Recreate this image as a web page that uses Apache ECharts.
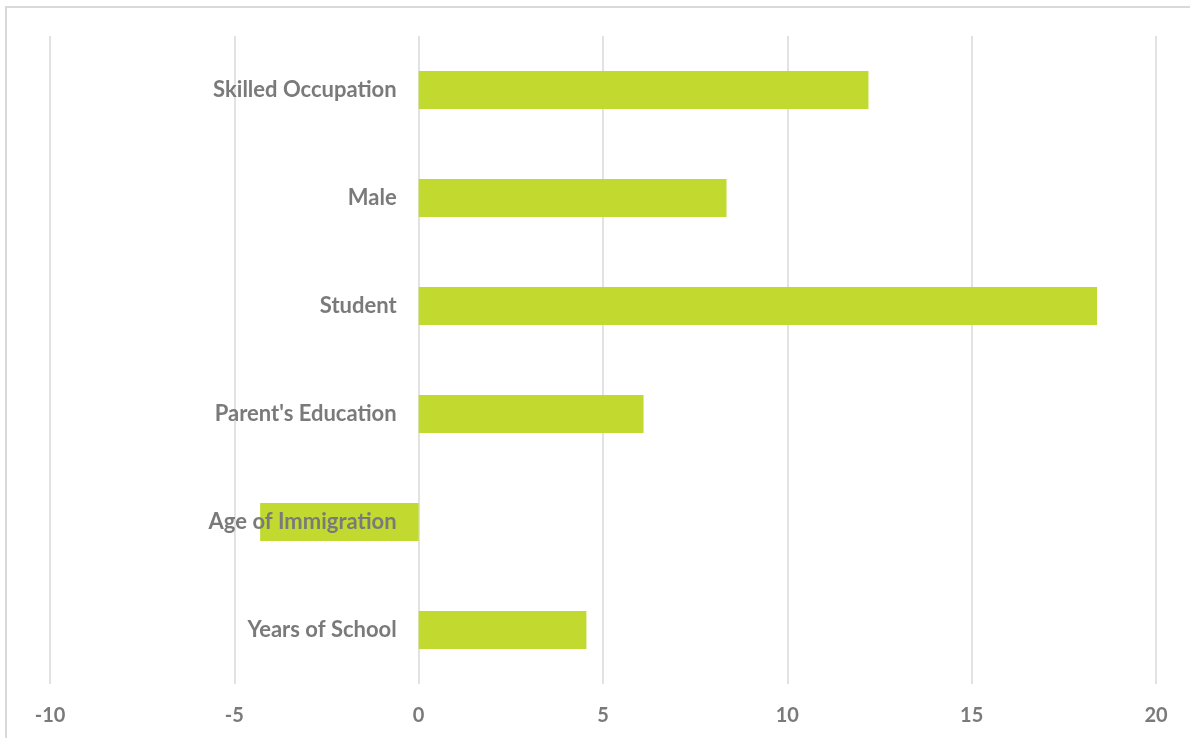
<!DOCTYPE html>
<html>
<head>
<meta charset="utf-8">
<script src="https://cdn.jsdelivr.net/npm/echarts@6/dist/echarts.min.js"></script>
<style>
  html, body { margin: 0; padding: 0; background: #ffffff; }
  #chart { width: 1190px; height: 738px; }
</style>
</head>
<body>
<div id="chart"></div>
<script>
// Predictors, listed top to bottom
const categories = [
  'Skilled Occupation',
  'Male',
  'Student',
  "Parent's Education",
  'Age of Immigration',
  'Years of School'
];
// Effect size for each predictor
const values = [12.2, 8.35, 18.4, 6.1, -4.3, 4.55];
// Value axis range and step
const axisMin = -10;
const axisMax = 20;
const axisStep = 5;

const chart = echarts.init(document.getElementById('chart'));
const labelFont = 'Lato, "Open Sans", "DejaVu Sans", sans-serif';
const labelColor = '#7a7a7a';

chart.setOption({
  animation: false,
  backgroundColor: '#ffffff',
  graphic: [{
    type: 'rect',
    shape: { x: 6, y: 7, width: 1250, height: 800 },
    style: { fill: 'none', stroke: '#d9d9d9', lineWidth: 2 },
    silent: true
  }],
  grid: { left: 50, right: 34, top: 36, height: 648, containLabel: false, outerBoundsMode: 'none' },
  xAxis: {
    type: 'value',
    min: axisMin,
    max: axisMax,
    interval: axisStep,
    axisLine: { show: false },
    axisTick: { show: false },
    splitLine: { show: true, lineStyle: { color: '#d9d9d9', width: 1.5 } },
    axisLabel: {
      margin: 22,
      color: labelColor,
      fontFamily: labelFont,
      fontWeight: 'bold',
      fontSize: 20
    }
  },
  yAxis: {
    type: 'category',
    data: categories,
    inverse: true,
    axisLine: { show: false },
    axisTick: { show: false },
    splitLine: { show: false },
    axisLabel: { show: false }
  },
  series: [{
    type: 'bar',
    data: values,
    barWidth: '35%',
    itemStyle: { color: '#c2da2f' },
    z: 2
  }, {
    // category names anchored at the zero line
    type: 'bar',
    data: categories.map(() => 0),
    barWidth: '35%',
    barGap: '-100%',
    itemStyle: { color: 'transparent' },
    silent: true,
    z: 5,
    label: {
      show: true,
      position: 'left',
      distance: 22,
      formatter: (p) => categories[p.dataIndex],
      color: labelColor,
      fontFamily: labelFont,
      fontWeight: 'bold',
      fontSize: 22
    }
  }]
});
</script>
</body>
</html>
